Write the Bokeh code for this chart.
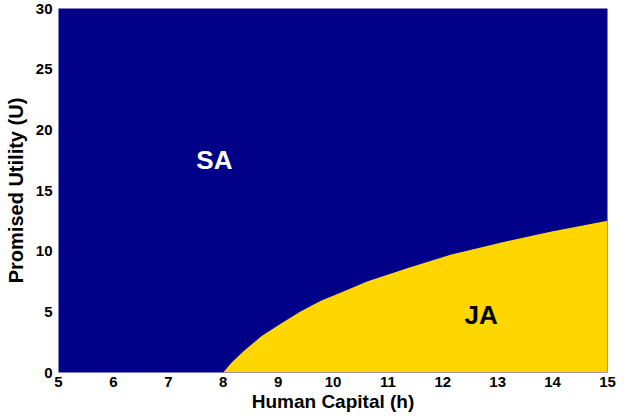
from bokeh.plotting import figure
from bokeh.embed import file_html
from bokeh.resources import INLINE
from bokeh.models import Range1d, FixedTicker, Label

# Region boundary (between SA above and JA below)
h_boundary = [8.0, 8.15, 8.38, 8.7, 9.04, 9.4, 9.77, 10.2, 10.62, 11.35, 12.14, 13.05, 13.96, 15.0]
u_boundary = [0.0, 0.8, 1.8, 3.0, 4.0, 5.0, 5.9, 6.7, 7.5, 8.6, 9.7, 10.7, 11.6, 12.5]
u_floor = [0.0] * len(h_boundary)

x_ticks = [5, 6, 7, 8, 9, 10, 11, 12, 13, 14, 15]
y_ticks = [0, 5, 10, 15, 20, 25, 30]

region_labels = ["SA", "JA"]
label_h = [7.84, 12.70]
label_u = [17.5, 4.75]

NAVY = "#000088"
GOLD = "#FFD600"
FONT = "Liberation Sans"

p = figure(width=625, height=419, output_backend="svg", toolbar_location=None,
           x_range=Range1d(5, 15), y_range=Range1d(0, 30),
           min_border_left=58, min_border_right=18, min_border_top=8, min_border_bottom=47)

p.background_fill_color = NAVY
p.border_fill_color = "white"
p.outline_line_color = None
p.grid.visible = False

p.varea(x=h_boundary, y1=u_floor, y2=u_boundary, fill_color=GOLD)

for ax in (p.xaxis[0], p.yaxis[0]):
    ax.axis_line_color = None
    ax.major_tick_line_color = None
    ax.minor_tick_line_color = None
    ax.major_tick_out = 0
    ax.major_tick_in = 0
    ax.major_label_text_font = FONT
    ax.major_label_text_font_style = "bold"
    ax.major_label_text_font_size = "15px"
    ax.major_label_text_color = "black"
    ax.axis_label_text_font = FONT
    ax.axis_label_text_font_style = "bold"
    ax.axis_label_text_color = "black"

p.xaxis.axis_label_text_font_size = "19px"
p.yaxis.axis_label_text_font_size = "20px"
p.xaxis.ticker = FixedTicker(ticks=x_ticks)
p.yaxis.ticker = FixedTicker(ticks=y_ticks)
p.xaxis.axis_label = "Human Capital (h)"
p.yaxis.axis_label = "Promised Utility (U)"
p.xaxis.major_label_standoff = 4
p.yaxis.major_label_standoff = 6
p.xaxis.axis_label_standoff = 1
p.yaxis.axis_label_standoff = 6

colors = ["white", "black"]
for t, hx, uy, c in zip(region_labels, label_h, label_u, colors):
    p.add_layout(Label(x=hx, y=uy, text=t, text_align="center", text_baseline="middle",
                       text_font=FONT, text_font_style="bold", text_font_size="26px",
                       text_color=c))

open("out.html", "w").write(file_html(p, INLINE))
